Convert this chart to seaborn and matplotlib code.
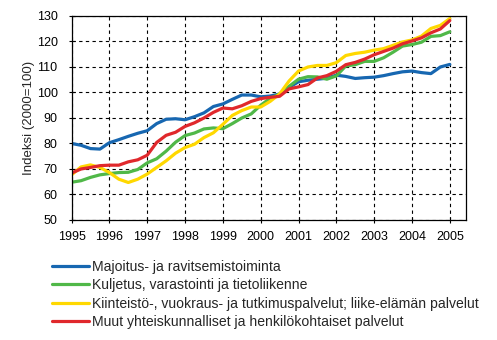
import numpy as np
import pandas as pd
import matplotlib
matplotlib.use("Agg")
import matplotlib.pyplot as plt
import seaborn as sns

# Quarterly index values, 1995 Q1 .. 2005 Q1 (2000 = 100)
years = [1995 + q / 4 for q in range(41)]

majoitus = [80.0, 79.3, 78.0, 77.8, 80.3, 81.5, 82.8, 84.0, 85.0, 87.8,
            89.5, 89.7, 89.3, 90.5, 92.0, 94.5, 95.5, 97.3, 99.0, 99.0,
            98.3, 98.6, 99.4, 102.0, 104.2, 104.8, 105.2, 105.6, 106.8, 106.3,
            105.5, 105.8, 106.0, 106.6, 107.4, 108.1, 108.4, 107.8, 107.4, 110.0,
            111.0]
kuljetus = [64.8, 65.4, 66.7, 67.7, 68.2, 68.6, 68.7, 69.8, 72.4, 74.0,
            77.0, 80.5, 83.1, 84.1, 85.7, 86.1, 85.8, 87.8, 90.0, 91.6,
            95.0, 97.7, 99.4, 102.4, 105.2, 106.2, 106.1, 105.2, 106.5, 110.4,
            110.9, 112.2, 112.2, 113.6, 115.8, 118.2, 118.8, 119.7, 122.0, 122.3,
            123.8]
kiinteisto = [67.7, 70.8, 71.6, 70.6, 68.6, 66.0, 64.7, 66.0, 68.0, 70.6,
              73.2, 76.2, 78.4, 79.7, 82.3, 84.2, 87.5, 91.0, 92.9, 94.3,
              94.3, 96.5, 99.4, 104.5, 108.4, 110.0, 110.6, 110.6, 111.7, 114.5,
              115.3, 115.8, 116.6, 117.2, 118.5, 119.8, 120.6, 122.1, 125.1, 126.3,
              129.0]
muut = [68.4, 70.0, 70.6, 71.3, 71.5, 71.5, 72.8, 73.6, 75.4, 80.4,
        83.2, 84.4, 86.7, 88.1, 90.0, 92.2, 93.9, 93.6, 94.8, 96.5,
        97.6, 98.1, 98.5, 101.4, 102.2, 103.1, 105.7, 106.6, 108.3, 110.9,
        111.8, 113.1, 114.8, 116.1, 117.4, 119.1, 120.2, 121.4, 123.4, 124.9,
        128.2]

series_names = [
    "Majoitus- ja ravitsemistoiminta",
    "Kuljetus, varastointi ja tietoliikenne",
    "Kiinteistö-, vuokraus- ja tutkimuspalvelut; liike-elämän palvelut",
    "Muut yhteiskunnalliset ja henkilökohtaiset palvelut",
]
colors = ["#1767B1", "#50B848", "#FFD800", "#E0282C"]
year_ticks = list(range(1995, 2006))
y_ticks = list(range(50, 131, 10))

frames = []
for name, vals in zip(series_names, [majoitus, kuljetus, kiinteisto, muut]):
    frames.append(pd.DataFrame({"vuosi": years, "indeksi": vals, "sarja": name}))
df = pd.concat(frames, ignore_index=True)

sns.set_theme(style="white")
plt.rcParams["font.family"] = ["Liberation Sans", "DejaVu Sans"]
plt.rcParams["font.size"] = 9

fig = plt.figure(figsize=(4.97, 3.40), dpi=100)
ax = fig.add_axes([0.144, 0.353, 0.793, 0.600])

sns.lineplot(data=df, x="vuosi", y="indeksi", hue="sarja",
             hue_order=series_names, palette=colors, linewidth=2.3,
             ax=ax, legend=False)

ax.set_xlim(1995, 2005.42)
ax.set_ylim(50, 130)
ax.set_xticks(year_ticks)
ax.set_xticklabels([str(y) for y in year_ticks])
ax.set_yticks(y_ticks)
ax.set_xlabel("")
ax.set_ylabel("Indeksi (2000=100)", fontsize=9.5, labelpad=1)
ax.tick_params(axis="both", direction="inout", length=4, width=0.8,
               color="black", labelsize=9, labelcolor="black",
               bottom=True, left=True)
ax.tick_params(axis="y", pad=8)
ax.tick_params(axis="x", pad=6)
ax.grid(True, color="black", linestyle=(0, (3, 3)), linewidth=0.8)
ax.set_axisbelow(True)
for sp in ax.spines.values():
    sp.set_visible(True)
    sp.set_color("black")
    sp.set_linewidth(0.9)

handles = [plt.Line2D([], [], color=c, linewidth=2.3) for c in colors]
fig.legend(handles, series_names, loc="upper left",
           bbox_to_anchor=(0.104, 0.235), frameon=False, fontsize=10.1,
           handlelength=2.65, handletextpad=0.2, labelspacing=0.3,
           borderpad=0, borderaxespad=0)

fig.savefig("out.png", dpi=100)
